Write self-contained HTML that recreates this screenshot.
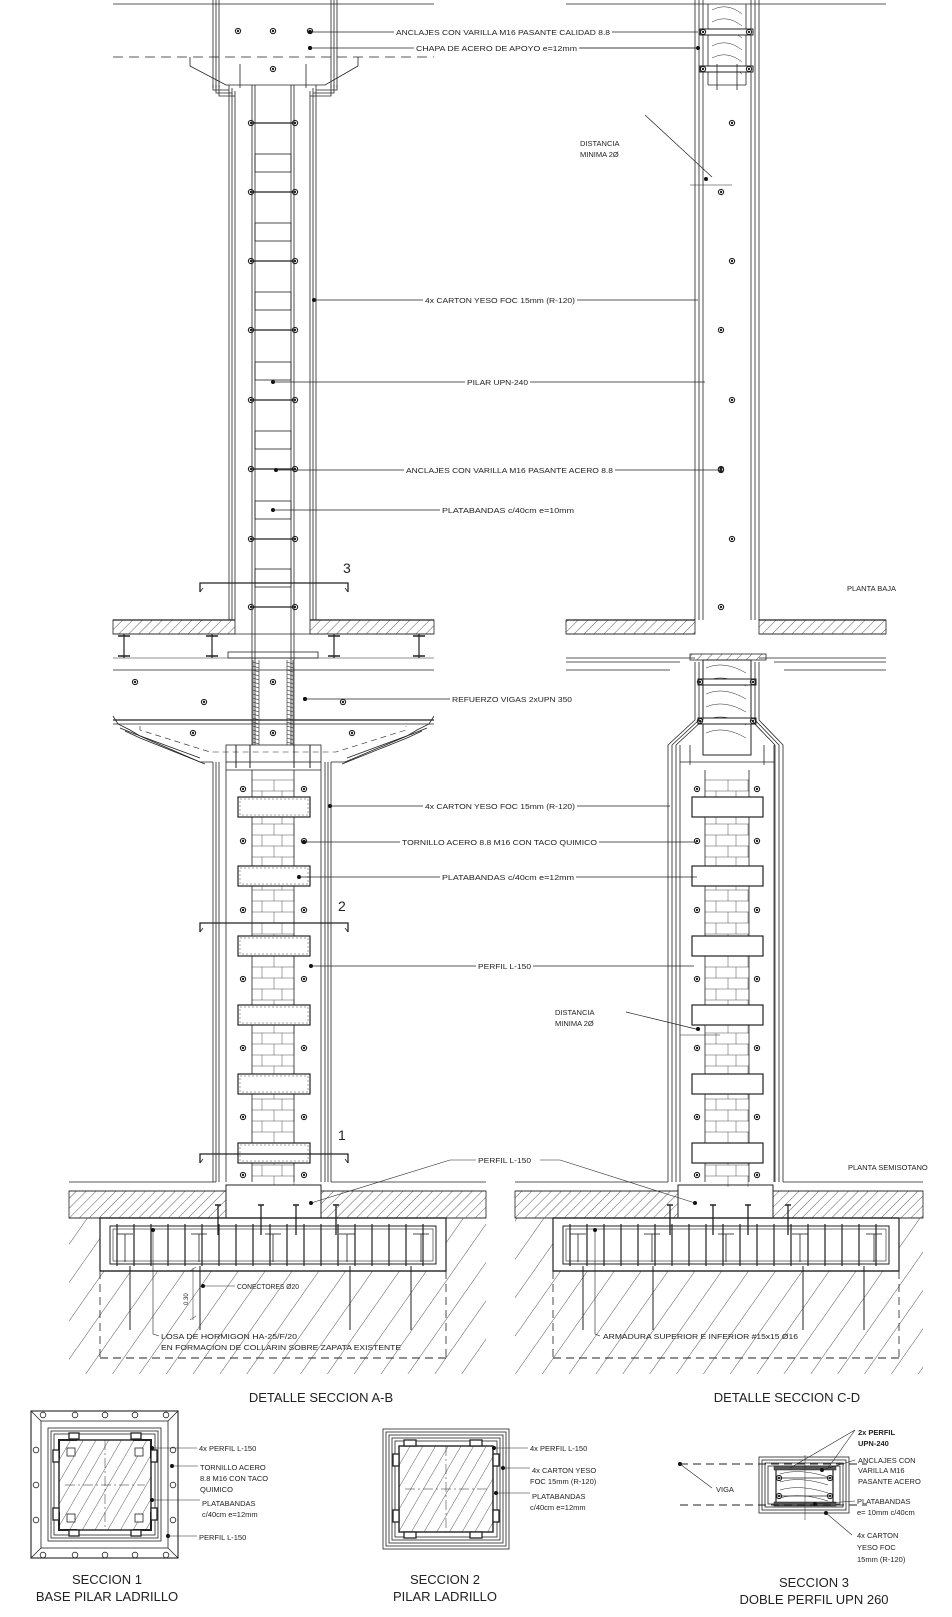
<!DOCTYPE html>
<html><head><meta charset="utf-8"><style>
html,body{margin:0;padding:0;background:#fff;}
svg{display:block;}
text{font-family:"Liberation Sans",sans-serif;fill:#222;}
.s{font-size:7.5px;}
.t{font-size:13px;}
</style></head><body>
<svg id="d" width="952" height="1617" viewBox="0 0 952 1617" xmlns="http://www.w3.org/2000/svg">
<defs>
<pattern id="h1" patternUnits="userSpaceOnUse" width="7" height="7" patternTransform="rotate(45)"><line x1="0" y1="0" x2="0" y2="7" stroke="#333" stroke-width="0.8"/></pattern>
<pattern id="h2" patternUnits="userSpaceOnUse" width="22" height="22" patternTransform="rotate(35)"><line x1="0" y1="0" x2="0" y2="22" stroke="#444" stroke-width="0.9"/></pattern>
<pattern id="h3" patternUnits="userSpaceOnUse" width="11" height="11" patternTransform="rotate(30)"><line x1="0" y1="0" x2="0" y2="11" stroke="#333" stroke-width="0.8"/></pattern>
</defs>
<g id="g" fill="none" stroke="#222" stroke-width="0.8"></g>

<g class="s">
<text x="396" y="35" textLength="214" lengthAdjust="spacingAndGlyphs">ANCLAJES CON VARILLA M16 PASANTE CALIDAD 8.8</text>
<text x="416" y="51" textLength="161" lengthAdjust="spacingAndGlyphs">CHAPA DE ACERO DE APOYO e=12mm</text>
<text x="580" y="146">DISTANCIA</text>
<text x="580" y="157">MINIMA 2Ø</text>
<text x="425" y="303" textLength="150" lengthAdjust="spacingAndGlyphs">4x CARTON YESO FOC 15mm (R-120)</text>
<text x="467" y="385" textLength="61" lengthAdjust="spacingAndGlyphs">PILAR UPN-240</text>
<text x="406" y="473" textLength="207" lengthAdjust="spacingAndGlyphs">ANCLAJES CON VARILLA M16 PASANTE ACERO 8.8</text>
<text x="442" y="513" textLength="132" lengthAdjust="spacingAndGlyphs">PLATABANDAS c/40cm e=10mm</text>
<text x="847" y="591">PLANTA BAJA</text>
<text x="452" y="702" textLength="120" lengthAdjust="spacingAndGlyphs">REFUERZO VIGAS 2xUPN 350</text>
<text x="425" y="809" textLength="150" lengthAdjust="spacingAndGlyphs">4x CARTON YESO FOC 15mm (R-120)</text>
<text x="402" y="845" textLength="195" lengthAdjust="spacingAndGlyphs">TORNILLO ACERO 8.8 M16 CON TACO QUIMICO</text>
<text x="442" y="880" textLength="132" lengthAdjust="spacingAndGlyphs">PLATABANDAS c/40cm e=12mm</text>
<text x="478" y="969" textLength="53" lengthAdjust="spacingAndGlyphs">PERFIL L-150</text>
<text x="555" y="1015">DISTANCIA</text>
<text x="555" y="1026">MINIMA 2Ø</text>
<text x="478" y="1163" textLength="53" lengthAdjust="spacingAndGlyphs">PERFIL L-150</text>
<text x="848" y="1170">PLANTA SEMISOTANO</text>
<text x="237" y="1289" textLength="62" lengthAdjust="spacingAndGlyphs">CONECTORES Ø20</text>
<text x="161" y="1339" textLength="136" lengthAdjust="spacingAndGlyphs">LOSA DE HORMIGON HA-25/F/20</text>
<text x="161" y="1350" textLength="240" lengthAdjust="spacingAndGlyphs">EN FORMACION DE COLLARIN SOBRE ZAPATA EXISTENTE</text>
<text x="603" y="1339" textLength="195" lengthAdjust="spacingAndGlyphs">ARMADURA SUPERIOR E INFERIOR #15x15 Ø16</text>
<text x="188" y="1305" transform="rotate(-90 188 1305)" style="font-size:6px">0.30</text>
</g>
<g style="font-size:14px">
<text x="343" y="573">3</text>
<text x="338" y="911">2</text>
<text x="338" y="1140">1</text>
</g>
<g class="t" text-anchor="middle">
<text x="321" y="1402">DETALLE SECCION A-B</text>
<text x="787" y="1402">DETALLE SECCION C-D</text>
<text x="107" y="1584">SECCION 1</text>
<text x="107" y="1601">BASE PILAR LADRILLO</text>
<text x="445" y="1584">SECCION 2</text>
<text x="445" y="1601">PILAR LADRILLO</text>
<text x="814" y="1587">SECCION 3</text>
<text x="814" y="1604">DOBLE PERFIL UPN 260</text>
</g>
<g class="s">
<text x="199" y="1451">4x PERFIL L-150</text>
<text x="200" y="1470">TORNILLO ACERO</text>
<text x="200" y="1481">8.8 M16 CON TACO</text>
<text x="200" y="1492">QUIMICO</text>
<text x="202" y="1506">PLATABANDAS</text>
<text x="202" y="1517">c/40cm e=12mm</text>
<text x="199" y="1540">PERFIL L-150</text>
<text x="530" y="1451">4x PERFIL L-150</text>
<text x="532" y="1473">4x CARTON YESO</text>
<text x="530" y="1484">FOC 15mm (R-120)</text>
<text x="532" y="1499">PLATABANDAS</text>
<text x="530" y="1510">c/40cm e=12mm</text>
<text x="858" y="1435" font-weight="bold">2x PERFIL</text>
<text x="858" y="1446" font-weight="bold">UPN-240</text>
<text x="858" y="1463">ANCLAJES CON</text>
<text x="858" y="1473">VARILLA M16</text>
<text x="858" y="1484">PASANTE ACERO</text>
<text x="857" y="1504">PLATABANDAS</text>
<text x="857" y="1515">e= 10mm c/40cm</text>
<text x="857" y="1538">4x CARTON</text>
<text x="857" y="1550">YESO FOC</text>
<text x="857" y="1562">15mm (R-120)</text>
<text x="716" y="1492">VIGA</text>
</g>
</svg>
<script>
(function(){
var g=document.getElementById('g'),NS='http://www.w3.org/2000/svg';
function el(t,a){var e=document.createElementNS(NS,t);for(var k in a)e.setAttribute(k,a[k]);g.appendChild(e);return e;}
function L(a,b,c,d,w,dash){var o={x1:a,y1:b,x2:c,y2:d};if(w)o['stroke-width']=w;if(dash)o['stroke-dasharray']=dash;return el('line',o);}
function R(x,y,w,h,f,sw){var o={x:x,y:y,width:w,height:h};if(f)o.fill=f;if(sw!=null){if(sw===0)o.stroke='none';else o['stroke-width']=sw;}return el('rect',o);}
function P(pts,f,sw){var o={points:pts};if(f)o.fill=f;if(sw)o['stroke-width']=sw;return el('polyline',o);}
function B(x,y){el('circle',{cx:x,cy:y,r:2.6,'stroke-width':1.1});el('circle',{cx:x,cy:y,r:0.8,fill:'#222'});}
function D(x,y){el('circle',{cx:x,cy:y,r:2,fill:'#111',stroke:'none'});}
var i,y,x;
L(113,4,434,4);
[213,216,219].forEach(function(x){L(x,0,x,88);});
[331,334,337].forEach(function(x){L(x,0,x,88);});
L(113,57,434,57,0.8,'10,6');
P('190,57 190,66 226,85 325,85 358,66 358,57');
B(238,31);B(273,31);B(310,31);B(273,69);D(310,48);
L(240,64,240,88);L(306,64,306,88);
[229,232,235].forEach(function(x,k){L(x,85+k*3,x,620);P((213+k*3)+',85 '+(213+k*3)+','+(90+k*3)+' '+x+','+(90+k*3));});
[316,313,310].forEach(function(x,k){L(x,85+k*3,x,620);P((337-k*3)+',85 '+(337-k*3)+','+(90+k*3)+' '+x+','+(90+k*3));});
[252,255,291,294].forEach(function(x){L(x,85,x,745);});
[123,192,261,330,400,469,539,607].forEach(function(y){L(250,y,296,y,1.3);B(251,y);B(295,y);});
[154,223,292,362,431,501,569].forEach(function(y){R(255,y,36,18);});
P('200,592 200,583 348,583 348,592',null,1.3);L(200,592,203,588);L(348,592,345,588);
R(113,620,122,14,'url(#h1)');R(310,620,124,14,'url(#h1)');
L(113,620,235,620,1.2);L(310,620,434,620,1.2);L(113,634,434,634);L(113,670,434,670);
[124,212,334,419].forEach(function(x){L(x,634,x,658,1.2);L(x-6,636,x+6,636,1.5);L(x-6,656,x+6,656,1.5);});
L(113,658,434,658,0.5);
R(228,652,90,6);
[256,290].forEach(function(x){for(y=662;y<745;y+=4){L(x-3,y,x+3,y+2,0.6);}L(x-3,660,x-3,745,0.6);L(x+3,660,x+3,745,0.6);});
B(135,682);B(273,682);B(204,702);B(343,702);D(305,699);
L(113,720,434,720,1.2);L(113,724,434,724);
P('113,716 118,724 130,730 140,736 200,762 213,762');
P('120,728 135,734 200,758');P('125,731 140,738 205,764');
P('434,716 429,724 417,730 407,736 345,762 331,762');
P('427,728 412,734 347,758');P('422,731 407,738 342,764');
P('140,726 140,730 210,752 336,752 406,730 406,726',null,0.6).setAttribute('stroke-dasharray','6,4');
B(193,733);B(273,733);B(352,733);
R(226,745,95,17);L(236,745,236,768,1);L(250,745,250,768,1);L(294,745,294,768,1);L(310,745,310,768,1);
[213,216,219].forEach(function(x){L(x,762,x,1182);});
[325,328,331].forEach(function(x){L(x,762,x,1182);});
L(226,762,226,1182);L(252,770,252,1182);L(294,770,294,1182);L(321,762,321,1182);L(226,770,321,770);
for(y=780;y<1182;y+=11){L(252,y,294,y,0.4);var o=((y-780)/11)%2?262:274;L(o,y,o,y+11,0.4);L(o+20,y,o+20,y+11,0.4);}
[807,876,946,1015,1084,1153].forEach(function(y){R(238,y-10,72,20,'#fff',1.2);R(240,y-8,68,16,'none',0.4).setAttribute('stroke-dasharray','2,2');});
[789,841,910,979,1048,1117,1175].forEach(function(y){B(243,y);B(304,y);});
P('200,932 200,923 348,923 348,932',null,1.3);L(200,932,203,928);L(348,932,345,928);
P('200,1163 200,1154 348,1154 348,1163',null,1.3);L(200,1163,203,1159);L(348,1163,345,1159);
function found(x0,x1,fx0,fx1,cx0,cx1){
 L(x0,1182,cx0,1182);L(cx1,1182,x1,1182);
 R(x0,1191,x1-x0,27,'url(#h1)',0.8);
 L(x0,1191,x1,1191);L(x0,1218,x1,1218);
 R(cx0+10,1185,cx1-cx0-20,33,'#fff',1);
 R(x0,1218,x1-x0,156,'url(#h2)',0);
 R(fx0,1218,fx1-fx0,53,'#fff',1.2);
 R(fx0+10,1226,fx1-fx0-20,38,'none',1);R(fx0+13,1229,fx1-fx0-26,32,'none',0.6);
 for(x=fx0+17;x<fx1-10;x+=17){L(x,1224,x,1266,1.2);}
 for(var k=0;k<5;k++){var xx=fx0+25+k*(fx1-fx0-50)/4;P((xx-8)+',1234 '+(xx+8)+',1234');P(xx+',1234 '+xx+',1262');}
 L(fx0,1271,fx0,1358,0.8,'8,5');L(fx1,1271,fx1,1358,0.8,'8,5');L(fx0,1358,fx1,1358,1,'8,5');
 L(fx0,1271,fx1,1271,1.2);
 [fx0+30,fx0+100,fx0+250,fx1-35].forEach(function(x){L(x,1266,x,1330,1);});
 [cx0+2,cx0+45,cx1-35,cx1+5].forEach(function(x){L(x,1205,x,1235,1.3);L(x-3,1205,x+3,1205,1.5);});
 L(fx0,1218,fx1,1218,1.3);
}
found(69,486,100,446,216,331);
found(515,923,553,899,668,783);
D(311,1203);P('311,1203 450,1160 476,1160',null,0.6);
D(153,1230);P('153,1230 153,1334 159,1336',null,0.6);
D(203,1286);L(203,1286,235,1286,0.6);
L(193,1268,193,1320,0.5);L(190,1271,196,1267,0.5);L(190,1320,196,1316,0.5);
L(566,4,886,4);
[695,699,703].forEach(function(x){L(x,0,x,620);});
[759,755,751].forEach(function(x){L(x,0,x,620);});
L(708,4,708,85);L(746,4,746,85);L(708,85,746,85);
for(i=0;i<6;i++){el('path',{d:'M712 '+(10+i*12)+' q15 -8 30 4','stroke-width':0.5});}
[32,69].forEach(function(y){R(700,y-3,53,6,'#fff',1);B(703,y);B(749,y);});
L(717,64,717,90);L(737,64,737,90);
[[732,123],[721,192],[732,261],[721,330],[732,400],[721,469],[732,539],[721,607]].forEach(function(p){B(p[0],p[1]);});
L(645,115,712,177,0.7);L(690,185,732,185,0.6);D(706,179);
D(698,48);L(580,48,698,48,0.6);
R(566,620,129,14,'url(#h1)');R(759,620,127,14,'url(#h1)');
L(566,620,695,620,1.2);L(759,620,886,620,1.2);L(566,634,695,634);L(759,634,886,634);
L(566,658,695,658);L(759,658,886,658);L(566,662,680,662);L(774,662,886,662);L(566,670,670,670);L(784,670,886,670);
R(690,654,76,6,'url(#h1)');
R(703,660,48,95,'#fff',1);for(i=0;i<6;i++){el('path',{d:'M706 '+(668+i*13)+' q18 -8 40 5','stroke-width':0.5});}
[682,721].forEach(function(y){R(698,y-3,58,6,'#fff',1);B(700,y);B(753,y);});
[0,4,8].forEach(function(k){P((695+k)+',662 '+(695+k)+',720 '+(668+k)+',745 '+(668+k)+',1182');P((759-k)+',662 '+(759-k)+',720 '+(783-k)+',745 '+(783-k)+',1182');});
L(680,745,680,1182);L(774,745,774,1182);L(680,762,774,762);L(705,770,705,1182);L(749,770,749,1182);
L(690,745,690,765);L(764,745,764,765);
for(y=780;y<1182;y+=11){L(705,y,749,y,0.4);var o2=((y-780)/11)%2?716:728;L(o2,y,o2,y+11,0.4);L(o2+20,y,o2+20,y+11,0.4);}
[807,876,946,1015,1084,1153].forEach(function(y){R(692,y-10,71,20,'#fff',1.2);});
[789,841,910,979,1048,1117,1175].forEach(function(y){B(697,y);B(757,y);});
L(626,1012,700,1030,0.7);L(680,1035,720,1035,0.6);D(698,1029);
D(695,1203);P('695,1203 560,1160 540,1160',null,0.6);
D(595,1230);P('595,1230 595,1334 600,1336',null,0.6);
D(310,32);L(310,32,394,32,0.7);L(612,32,698,32,0.7);
D(310,48);L(310,48,414,48,0.7);L(579,48,698,48,0.7);
D(314,300);L(314,300,423,300,0.7);L(577,300,698,300,0.7);
D(273,382);L(273,382,465,382,0.7);L(530,382,705,382,0.7);
D(276,470);L(276,470,404,470,0.7);L(615,470,721,470,0.7);B(721,470);
D(273,510);L(273,510,440,510,0.7);
D(305,699);L(305,699,450,699,0.7);
D(330,806);L(330,806,423,806,0.7);L(577,806,670,806,0.7);
D(304,842);L(304,842,400,842,0.7);L(599,842,697,842,0.7);
D(299,877);L(299,877,440,877,0.7);L(576,877,697,877,0.7);
D(311,966);L(311,966,476,966,0.7);L(533,966,694,966,0.7);
R(31,1411,147,147,null,1.1);R(41,1421,127,127);
L(31,1411,41,1421);L(178,1411,168,1421);L(31,1558,41,1548);L(178,1558,168,1548);
R(48,1428,113,113);R(51,1431,107,107);R(54,1434,101,101);
R(59,1440,92,90,'url(#h3)',1.4);
L(105,1440,105,1530,0.5,'10,3,2,3');L(65,1485,145,1485,0.5,'10,3,2,3');
[[59,1440],[151,1440],[59,1530],[151,1530]].forEach(function(p){var sx=p[0]<100?1:-1,sy=p[1]<1480?1:-1;P(p[0]+','+(p[1]+sy*18)+' '+p[0]+','+p[1]+' '+(p[0]+sx*18)+','+p[1],null,2);R(p[0]+sx*8-(sx<0?8:0),p[1]+sy*8-(sy<0?8:0),8,8,'#fff',0.8);});
[[74,1436],[136,1436],[74,1533],[136,1533]].forEach(function(p){R(p[0]-5,p[1]-3,10,6,'#fff',1.3);});
[[56,1456],[154,1456],[56,1514],[154,1514]].forEach(function(p){R(p[0]-3,p[1]-6,6,12,'#fff',1.3);});
[[43,1415],[75,1415],[105,1415],[135,1415],[166,1415],[43,1555],[75,1555],[105,1555],[135,1555],[166,1555],[36,1450],[36,1485],[36,1520],[173,1450],[173,1485],[173,1520]].forEach(function(p){el('circle',{cx:p[0],cy:p[1],r:2.8,fill:'#fff'});});
D(152,1448);L(152,1448,197,1448,0.6);D(172,1466);L(172,1466,198,1466,0.6);D(152,1500);L(152,1500,200,1500,0.6);D(168,1536);L(168,1536,197,1536,0.6);
R(383,1429,126,120);R(386,1432,120,114);R(389,1435,114,108);R(392,1438,108,102);R(395,1441,102,96);
R(399,1446,94,86,'url(#h3)',1.4);
L(446,1446,446,1532,0.5,'10,3,2,3');L(405,1489,487,1489,0.5,'10,3,2,3');
[[410,1443],[476,1443],[410,1535],[476,1535]].forEach(function(p){R(p[0]-6,p[1]-3,12,6,'#fff',1.3);});
[[396,1460],[496,1460],[396,1516],[496,1516]].forEach(function(p){R(p[0]-3,p[1]-6,6,12,'#fff',1.3);});
D(494,1448);L(494,1448,528,1448,0.6);D(503,1468);L(503,1468,530,1468,0.6);D(496,1493);L(496,1493,530,1493,0.6);
R(759,1457,90,56);R(762,1460,84,50);R(765,1463,78,44);R(768,1466,72,38);
R(776,1468,57,36,'#fff',1.2);
for(i=0;i<4;i++){el('path',{d:'M780 '+(1474+i*8)+' q20 -6 48 3','stroke-width':0.5});}
R(774,1466,62,4,'#555',0.5);R(774,1502,62,4,'#555',0.5);
B(779,1478);B(830,1478);B(779,1496);B(830,1496);L(776,1478,833,1478);L(776,1496,833,1496);
L(805,1455,805,1520,0.5);
L(680,1464,867,1464,0.9,'8,5');L(680,1505,867,1505,0.9,'8,5');D(680,1464);
L(680,1464,712,1488,0.6);
L(855,1430,790,1468,0.6);L(855,1430,828,1468,0.6);
D(822,1470);L(822,1470,855,1460,0.6);D(815,1504);L(815,1504,855,1501,0.6);D(826,1513);L(826,1513,852,1535,0.6);
})();
</script>
</body></html>
